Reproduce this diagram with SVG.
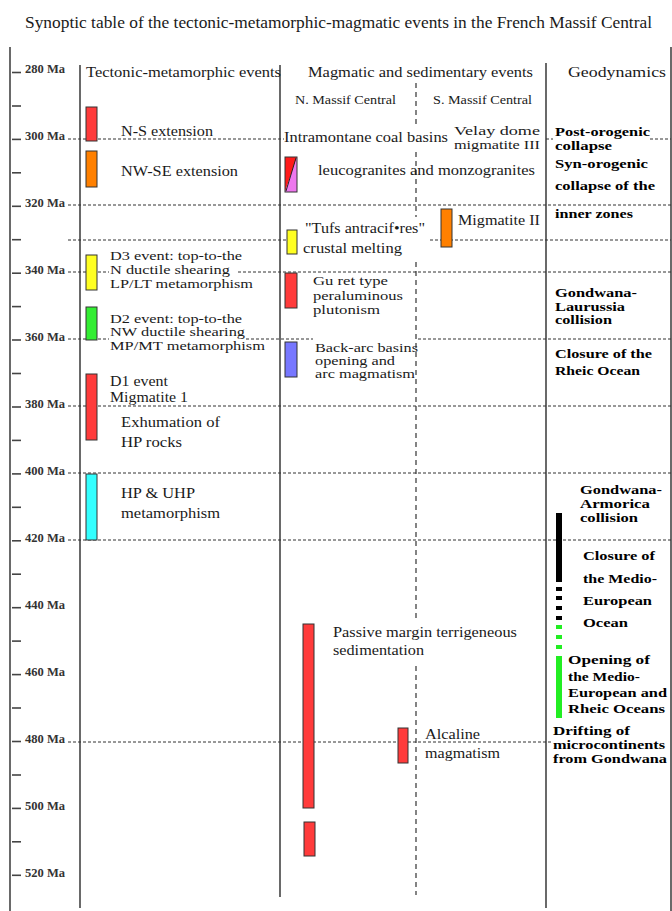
<svg xmlns="http://www.w3.org/2000/svg" width="672" height="911" viewBox="0 0 672 911">
<style>
text{font-family:"Liberation Serif","Times New Roman",serif;font-size:14px;fill:#1a1a1a}
.ti{font-size:17px}
.ax{font-size:12px;font-weight:bold;fill:#333}
.sm{font-size:12px}
.st{font-size:13px}
.b{font-weight:bold;fill:#000;font-size:13.5px}
.frame{stroke:#444;stroke-width:1.6;fill:none}
.tick{stroke:#444;stroke-width:1.6}
.hd{stroke:#333;stroke-width:1;stroke-dasharray:3 2;fill:none}
.vd{stroke:#333;stroke-width:1.2;stroke-dasharray:5 4;fill:none}
.bx{stroke:#333;stroke-width:1}
</style>
<rect width="672" height="911" fill="#fff"/>
<text class="ti" x="25" y="28" textLength="627" lengthAdjust="spacingAndGlyphs">Synoptic table of the tectonic-metamorphic-magmatic events in the French Massif Central</text>

<g id="frame">
<line class="frame" x1="10" y1="47" x2="10" y2="911" stroke-width="2"/>
<line class="frame" x1="80" y1="65" x2="80" y2="908"/>
<line class="frame" x1="280" y1="65" x2="280" y2="897"/>
<line class="frame" x1="546" y1="63" x2="546" y2="908"/>
<line class="frame" x1="671" y1="47" x2="671" y2="911"/>
</g>

<g id="axis">
<g class="tick">
<line x1="12" y1="72.5" x2="21" y2="72.5"/><line x1="12" y1="106" x2="21" y2="106"/>
<line x1="12" y1="139.4" x2="21" y2="139.4"/><line x1="12" y1="172.8" x2="21" y2="172.8"/>
<line x1="12" y1="206.3" x2="21" y2="206.3"/><line x1="12" y1="239.7" x2="21" y2="239.7"/>
<line x1="12" y1="273.2" x2="21" y2="273.2"/><line x1="12" y1="306.6" x2="21" y2="306.6"/>
<line x1="12" y1="340" x2="21" y2="340"/><line x1="12" y1="373.5" x2="21" y2="373.5"/>
<line x1="12" y1="407" x2="21" y2="407"/><line x1="12" y1="440.4" x2="21" y2="440.4"/>
<line x1="12" y1="473.9" x2="21" y2="473.9"/><line x1="12" y1="507.3" x2="21" y2="507.3"/>
<line x1="12" y1="540.8" x2="21" y2="540.8"/><line x1="12" y1="574.2" x2="21" y2="574.2"/>
<line x1="12" y1="607.7" x2="21" y2="607.7"/><line x1="12" y1="641.1" x2="21" y2="641.1"/>
<line x1="12" y1="674.6" x2="21" y2="674.6"/><line x1="12" y1="708" x2="21" y2="708"/>
<line x1="12" y1="741.5" x2="21" y2="741.5"/><line x1="12" y1="775" x2="21" y2="775"/>
<line x1="12" y1="808.4" x2="21" y2="808.4"/><line x1="12" y1="841.8" x2="21" y2="841.8"/>
<line x1="12" y1="875.3" x2="21" y2="875.3"/>
</g>
<text class="ax" x="25" y="73" textLength="40" lengthAdjust="spacingAndGlyphs">280 Ma</text>
<text class="ax" x="25" y="140" textLength="40" lengthAdjust="spacingAndGlyphs">300 Ma</text>
<text class="ax" x="25" y="207" textLength="40" lengthAdjust="spacingAndGlyphs">320 Ma</text>
<text class="ax" x="25" y="274" textLength="40" lengthAdjust="spacingAndGlyphs">340 Ma</text>
<text class="ax" x="25" y="341" textLength="40" lengthAdjust="spacingAndGlyphs">360 Ma</text>
<text class="ax" x="25" y="408" textLength="40" lengthAdjust="spacingAndGlyphs">380 Ma</text>
<text class="ax" x="25" y="475" textLength="40" lengthAdjust="spacingAndGlyphs">400 Ma</text>
<text class="ax" x="25" y="542" textLength="40" lengthAdjust="spacingAndGlyphs">420 Ma</text>
<text class="ax" x="25" y="609" textLength="40" lengthAdjust="spacingAndGlyphs">440 Ma</text>
<text class="ax" x="25" y="676" textLength="40" lengthAdjust="spacingAndGlyphs">460 Ma</text>
<text class="ax" x="25" y="743" textLength="40" lengthAdjust="spacingAndGlyphs">480 Ma</text>
<text class="ax" x="25" y="810" textLength="40" lengthAdjust="spacingAndGlyphs">500 Ma</text>
<text class="ax" x="25" y="877" textLength="40" lengthAdjust="spacingAndGlyphs">520 Ma</text>
</g>

<g id="connectors">
<path class="hd" d="M68 139H284M546 139H553M650 139H671"/>
<path class="hd" d="M68 205H671"/>
<path class="hd" d="M68 240H286M430 240H671"/>
<path class="hd" d="M68 272H109M238 272H671"/>
<path class="hd" d="M68 339H109M246 339H313M418 339H671"/>
<path class="hd" d="M68 406H671"/>
<path class="hd" d="M68 473H671"/>
<path class="hd" d="M68 540H671"/>
<path class="hd" d="M68 742H552"/>
<path class="vd" d="M416 83V127M416 152V217M416 262V620M416 666V895"/>
</g>

<g id="headers">
<text x="86" y="77" textLength="195" lengthAdjust="spacingAndGlyphs">Tectonic-metamorphic events</text>
<text x="308" y="77" textLength="225" lengthAdjust="spacingAndGlyphs">Magmatic and sedimentary events</text>
<text x="568" y="77" textLength="98" lengthAdjust="spacingAndGlyphs">Geodynamics</text>
<text class="sm" x="295" y="104" textLength="101" lengthAdjust="spacingAndGlyphs">N. Massif Central</text>
<text class="sm" x="433" y="104" textLength="99" lengthAdjust="spacingAndGlyphs">S. Massif Central</text>
</g>

<g id="ns-extension">
<rect class="bx" x="86" y="107" width="11" height="34" fill="#ff3b3b"/>
<text x="121" y="136" textLength="92" lengthAdjust="spacingAndGlyphs">N-S extension</text>
</g>
<g id="nwse-extension">
<rect class="bx" x="86" y="151" width="11" height="36" fill="#ff8000"/>
<text x="121" y="176" textLength="117" lengthAdjust="spacingAndGlyphs">NW-SE extension</text>
</g>
<g id="d3-event">
<rect class="bx" x="86" y="255" width="11" height="35" fill="#ffff22"/>
<text class="st" x="110" y="260" textLength="132" lengthAdjust="spacingAndGlyphs">D3 event: top-to-the</text>
<text class="st" x="110" y="274" textLength="120" lengthAdjust="spacingAndGlyphs">N ductile shearing</text>
<text class="st" x="110" y="288" textLength="143" lengthAdjust="spacingAndGlyphs">LP/LT metamorphism</text>
</g>
<g id="d2-event">
<rect class="bx" x="86" y="307" width="11" height="33" fill="#33ee33"/>
<text class="st" x="110" y="323" textLength="132" lengthAdjust="spacingAndGlyphs">D2 event: top-to-the</text>
<text class="st" x="110" y="336" textLength="135" lengthAdjust="spacingAndGlyphs">NW ductile shearing</text>
<text class="st" x="110" y="350" textLength="155" lengthAdjust="spacingAndGlyphs">MP/MT metamorphism</text>
</g>
<g id="d1-event">
<rect class="bx" x="86" y="374" width="11" height="66" fill="#ff3b3b"/>
<text x="110" y="386" textLength="58" lengthAdjust="spacingAndGlyphs">D1 event</text>
<text x="110" y="402" textLength="78" lengthAdjust="spacingAndGlyphs">Migmatite 1</text>
<text x="121" y="427" textLength="99" lengthAdjust="spacingAndGlyphs">Exhumation of</text>
<text x="121" y="447" textLength="61" lengthAdjust="spacingAndGlyphs">HP rocks</text>
</g>
<g id="hp-uhp">
<rect class="bx" x="86" y="474" width="11" height="66" fill="#33ffff"/>
<text x="121" y="498" textLength="74" lengthAdjust="spacingAndGlyphs">HP &amp; UHP</text>
<text x="121" y="518" textLength="99" lengthAdjust="spacingAndGlyphs">metamorphism</text>
</g>

<g id="coal-basins">
<text x="284" y="142" textLength="164" lengthAdjust="spacingAndGlyphs">Intramontane coal basins</text>
</g>
<g id="velay-dome">
<text class="st" x="454" y="135" textLength="86" lengthAdjust="spacingAndGlyphs">Velay dome</text>
<text class="st" x="454" y="149" textLength="86" lengthAdjust="spacingAndGlyphs">migmatite III</text>
</g>
<g id="leucogranites">
<polygon points="285,157 297,157 285,192" fill="#ff1a1a"/>
<polygon points="297,157 297,192 285,192" fill="#ee77ee"/>
<rect class="bx" x="285" y="157" width="12" height="35" fill="none"/>
<line x1="296" y1="158" x2="286" y2="191" stroke="#222" stroke-width="1"/>
<text x="318" y="175" textLength="217" lengthAdjust="spacingAndGlyphs">leucogranites and monzogranites</text>
</g>
<g id="tufs">
<rect class="bx" x="287" y="230" width="10" height="24" fill="#ffff22"/>
<text x="305" y="233" textLength="120" lengthAdjust="spacingAndGlyphs">"Tufs antracif•res"</text>
<text x="303" y="253" textLength="99" lengthAdjust="spacingAndGlyphs">crustal melting</text>
</g>
<g id="migmatite-2">
<rect class="bx" x="441" y="209" width="11" height="38" fill="#ff8000"/>
<text x="458" y="225" textLength="82" lengthAdjust="spacingAndGlyphs">Migmatite II</text>
</g>
<g id="gueret">
<rect class="bx" x="285" y="273" width="12" height="35" fill="#ff3b3b"/>
<text class="st" x="313" y="285" textLength="75" lengthAdjust="spacingAndGlyphs">Gu ret type</text>
<text class="st" x="313" y="300" textLength="90" lengthAdjust="spacingAndGlyphs">peraluminous</text>
<text class="st" x="313" y="314" textLength="67" lengthAdjust="spacingAndGlyphs">plutonism</text>
</g>
<g id="back-arc">
<rect class="bx" x="285" y="342" width="12" height="35" fill="#7777ff"/>
<text class="st" x="315" y="352" textLength="103" lengthAdjust="spacingAndGlyphs">Back-arc basins</text>
<text class="st" x="315" y="365" textLength="80" lengthAdjust="spacingAndGlyphs">opening and</text>
<text class="st" x="315" y="378" textLength="100" lengthAdjust="spacingAndGlyphs">arc magmatism</text>
</g>
<g id="passive-margin">
<rect class="bx" x="303" y="624" width="11" height="184" fill="#ff3b3b"/>
<rect class="bx" x="304" y="822" width="11" height="34" fill="#ff3b3b"/>
<text x="333" y="637" textLength="184" lengthAdjust="spacingAndGlyphs">Passive margin terrigeneous</text>
<text x="333" y="655" textLength="91" lengthAdjust="spacingAndGlyphs">sedimentation</text>
</g>
<g id="alcaline">
<rect class="bx" x="398" y="728" width="10" height="35" fill="#ff3b3b"/>
<text x="425" y="739" textLength="55" lengthAdjust="spacingAndGlyphs">Alcaline</text>
<text x="425" y="758" textLength="75" lengthAdjust="spacingAndGlyphs">magmatism</text>
</g>

<g id="post-orogenic">
<text class="b" x="555" y="136" textLength="95" lengthAdjust="spacingAndGlyphs">Post-orogenic</text>
<text class="b" x="555" y="150" textLength="57" lengthAdjust="spacingAndGlyphs">collapse</text>
</g>
<g id="syn-orogenic">
<text class="b" x="555" y="168" textLength="93" lengthAdjust="spacingAndGlyphs">Syn-orogenic</text>
<text class="b" x="555" y="190" textLength="100" lengthAdjust="spacingAndGlyphs">collapse of the</text>
<text class="b" x="555" y="218" textLength="78" lengthAdjust="spacingAndGlyphs">inner zones</text>
</g>
<g id="gondwana-laurussia">
<text class="b" x="555" y="297" textLength="82" lengthAdjust="spacingAndGlyphs">Gondwana-</text>
<text class="b" x="555" y="311" textLength="70" lengthAdjust="spacingAndGlyphs">Laurussia</text>
<text class="b" x="555" y="324" textLength="57" lengthAdjust="spacingAndGlyphs">collision</text>
</g>
<g id="rheic-closure">
<text class="b" x="555" y="358" textLength="97" lengthAdjust="spacingAndGlyphs">Closure of the</text>
<text class="b" x="555" y="375" textLength="85" lengthAdjust="spacingAndGlyphs">Rheic Ocean</text>
</g>
<g id="gondwana-armorica">
<text class="b" x="580" y="494" textLength="82" lengthAdjust="spacingAndGlyphs">Gondwana-</text>
<text class="b" x="580" y="508" textLength="70" lengthAdjust="spacingAndGlyphs">Armorica</text>
<text class="b" x="580" y="522" textLength="58" lengthAdjust="spacingAndGlyphs">collision</text>
</g>
<g id="geo-bar">
<rect x="556" y="513" width="6" height="69" fill="#000"/>
<rect x="556" y="587" width="6" height="4" fill="#000"/>
<rect x="556" y="596" width="6" height="4" fill="#000"/>
<rect x="556" y="606" width="6" height="4" fill="#000"/>
<rect x="556" y="616" width="6" height="4" fill="#000"/>
<rect x="556" y="625" width="6" height="4" fill="#22ee22"/>
<rect x="556" y="635" width="6" height="4" fill="#22ee22"/>
<rect x="556" y="645" width="6" height="4" fill="#22ee22"/>
<rect x="556" y="656" width="6" height="62" fill="#22ee22"/>
</g>
<g id="medio-closure">
<text class="b" x="583" y="560" textLength="72" lengthAdjust="spacingAndGlyphs">Closure of</text>
<text class="b" x="583" y="583" textLength="74" lengthAdjust="spacingAndGlyphs">the Medio-</text>
<text class="b" x="583" y="605" textLength="69" lengthAdjust="spacingAndGlyphs">European</text>
<text class="b" x="583" y="627" textLength="45" lengthAdjust="spacingAndGlyphs">Ocean</text>
</g>
<g id="medio-opening">
<text class="b" x="568" y="664" textLength="82" lengthAdjust="spacingAndGlyphs">Opening of</text>
<text class="b" x="568" y="681" textLength="72" lengthAdjust="spacingAndGlyphs">the Medio-</text>
<text class="b" x="568" y="697" textLength="99" lengthAdjust="spacingAndGlyphs">European and</text>
<text class="b" x="568" y="713" textLength="97" lengthAdjust="spacingAndGlyphs">Rheic Oceans</text>
</g>
<g id="drifting">
<text class="b" x="553" y="735" textLength="77" lengthAdjust="spacingAndGlyphs">Drifting of</text>
<text class="b" x="553" y="749" textLength="112" lengthAdjust="spacingAndGlyphs">microcontinents</text>
<text class="b" x="553" y="763" textLength="114" lengthAdjust="spacingAndGlyphs">from Gondwana</text>
</g>
</svg>
